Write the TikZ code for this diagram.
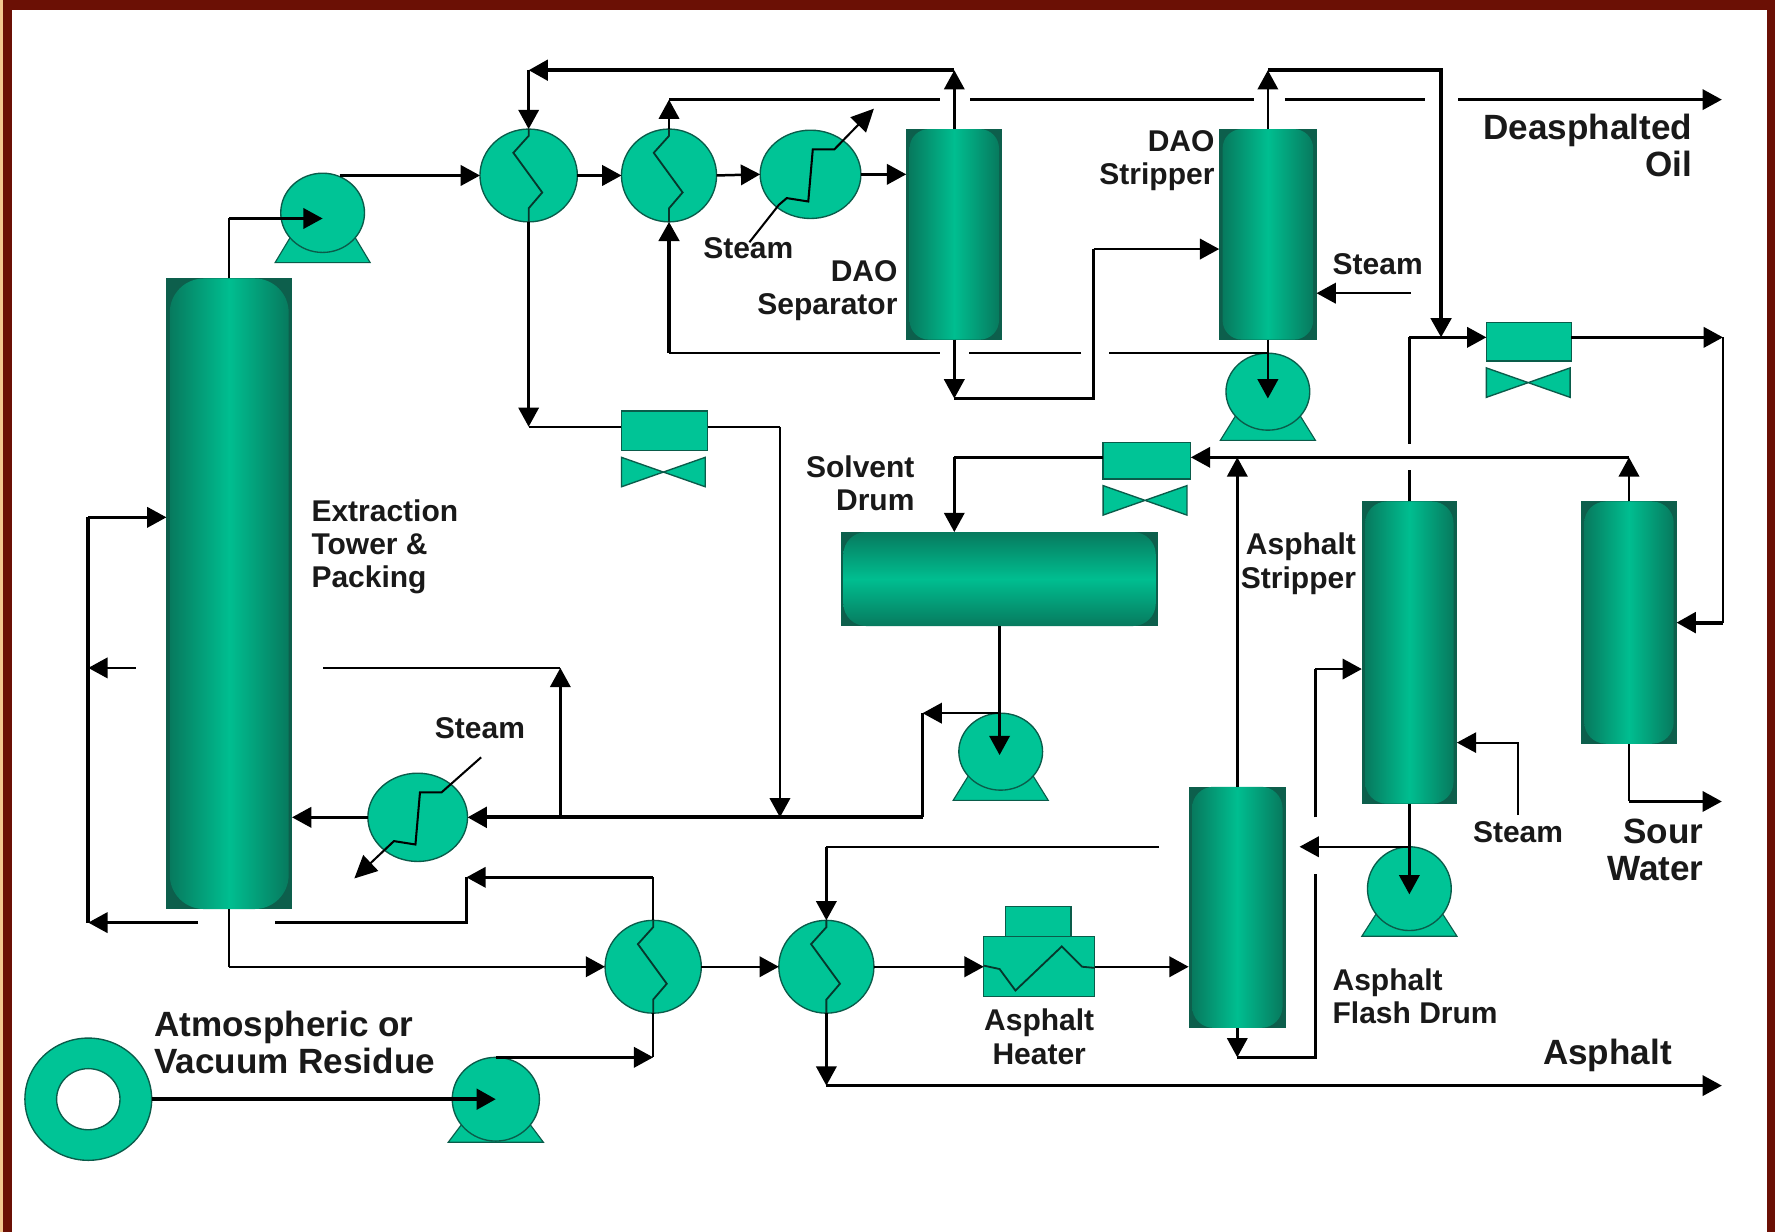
\documentclass[tikz,border=0pt]{standalone}
\usepackage{fontspec}
\setmainfont{Liberation Sans}
\usetikzlibrary{arrows.meta,shapes.geometric}
\definecolor{eqfill}{HTML}{00C496}
\definecolor{eqline}{HTML}{0A5C4A}
\definecolor{vdark}{HTML}{0D5F4C}
\definecolor{vedge}{HTML}{077A5E}
\definecolor{vmid}{HTML}{00BE90}
\definecolor{frame}{HTML}{6B1005}
\definecolor{frameedge}{HTML}{F3C890}
\tikzset{
  x=1pt,y=-1pt,
  >={Triangle[length=17pt,width=18pt]},
  pipe/.style={line width=2.2pt,black,line join=miter},
  bigpipe/.style={line width=3.4pt,black,line join=miter},
  zig/.style={line width=1.6pt,eqline!60!black,line join=miter},
  eq/.style={draw=eqline,line width=1.2pt,fill=eqfill,inner sep=0pt,outer sep=0pt},
  hx/.style={eq,ellipse},
  vesselbox/.style={rectangle,fill=vdark,inner sep=0pt,outer sep=0pt},
  lbl/.style={font=\bfseries\fontsize{26.5}{29.5}\selectfont,inner sep=0pt,text=black!90},
  biglbl/.style={font=\bfseries\fontsize{31}{32.5}\selectfont,inner sep=0pt,text=black!90},
}
% vertical vessel: name, cx, cy, w, h, radius
\newcommand{\vvessel}[6]{%
  \node[vesselbox,minimum width=#4pt,minimum height=#5pt] (#1) at (#2,#3) {};
  \shade[left color=vedge,right color=vedge,middle color=vmid,rounded corners=#6pt]
    ([xshift=3pt]#1.north west) rectangle ([xshift=-3pt]#1.south east);
}
% pump: name, cx, cy, w, h, base offset
\newcommand{\pumpunit}[6]{%
  \fill[eqfill,draw=eqline,line width=1pt] (#2-42,#3+#6) -- (#2+42,#3+#6) -- (#2+24,#3+14) -- (#2-24,#3+14) -- cycle;
  \node[hx,minimum width=#4pt,minimum height=#5pt] (#1) at (#2,#3) {};
}
% control valve: name, cx, cy, w, h
\newcommand{\ctlvalve}[5]{%
  \node[eq,rectangle,minimum width=#4pt,minimum height=#5pt] (#1) at (#2,#3) {};
  \path[eq,shift={(#1.south west)}] (0,6) -- (37,19) -- (74,6) -- (74,32) -- (37,19) -- (0,32) -- cycle;
}
\newcommand{\hxzig}[1]{%
  \draw[zig,shift={(#1.center)}] (0,-41) -- (0,-35) -- (-13.5,-20) -- (12,15) -- (0,29) -- (0,41);
}
\begin{document}
\begin{tikzpicture}
\useasboundingbox (0,0) rectangle (1568,1088);
\fill[white] (0,0) rectangle (1568,1088);
\fill[frameedge] (0,0) rectangle (3,1088);
\fill[frame] (3,0) rectangle (11,1088);
\fill[frame] (3,0) rectangle (1568,9);
\fill[frame] (1561,0) rectangle (1568,1088);

% vessels
\vvessel{tower}{202.5}{524.5}{111}{557}{30}
\vvessel{sep}{843}{207}{85}{186}{17}
\vvessel{strip}{1120}{207}{86}{186}{17}
\vvessel{astrip}{1245}{576.5}{84}{267}{19}
\vvessel{sour}{1439}{550}{85}{214}{19}
\vvessel{flash}{1093}{801.5}{86}{213}{19}
\node[vesselbox,minimum width=280pt,minimum height=83pt] (drum) at (883,511.5) {};
\shade[top color=vedge,bottom color=vedge,middle color=vmid,rounded corners=20pt]
  ([xshift=2pt]drum.north west) rectangle ([xshift=-2pt]drum.south east);

% exchangers
\node[hx,minimum width=86pt,minimum height=82pt] (hx1) at (467,155) {};
\node[hx,minimum width=84pt,minimum height=82pt] (hx2) at (591,155) {};
\node[hx,minimum width=89pt,minimum height=78pt] (cond1) at (716,154) {};
\node[hx,minimum width=88pt,minimum height=78pt] (cond2) at (369,722) {};
\node[hx,minimum width=85pt,minimum height=82pt] (hx3) at (577,854) {};
\node[hx,minimum width=84pt,minimum height=82pt] (hx4) at (730,854) {};

% pumps
\pumpunit{P1}{285}{188}{74}{70}{44}
\pumpunit{P2}{1120}{346}{74}{68}{43}
\pumpunit{P3}{884}{664}{74}{68}{43}
\pumpunit{P4}{1245}{785}{74}{74}{42}
\pumpunit{P5}{438}{971}{77}{74}{38}

% valves
\ctlvalve{V1}{587}{380.5}{76}{35}
\ctlvalve{V2}{1013}{407}{77}{32}
\ctlvalve{V3}{1350.5}{302}{75}{34}

% feed ring
\node[hx,minimum width=112pt,minimum height=108pt] (ring) at (78,971) {};
\node[ellipse,draw=eqline,line width=1.2pt,fill=white,minimum width=56pt,minimum height=54pt,inner sep=0pt] (hole) at (78,971) {};

% heater
\node[eq,rectangle,minimum width=58pt,minimum height=27pt] (heatertop) at (917,814.5) {};
\node[eq,rectangle,minimum width=98pt,minimum height=53pt] (heater) at (918,854) {};
\draw[zig,shift={(heater.center)}] (-49,-1) -- (-35,2) -- (-21,21) -- (20,-18) -- (38,0) -- (49,1);

% coil details
\hxzig{hx1}\hxzig{hx2}\hxzig{hx3}\hxzig{hx4}

% named free ends and bends
\coordinate (towerup) at (202.5,193);
\coordinate (P1in) at (285,193);
\coordinate (top62) at (843,62);
\coordinate (left62) at (467,62);
\coordinate (a377) at (467,377);
\coordinate (b377) at (689,377);
\coordinate (c722) at (689,722);
\coordinate (d88) at (591,88);
\coordinate (d88a) at (830,88);
\coordinate (d88b) at (857,88);
\coordinate (d88c) at (1108,88);
\coordinate (d88d) at (1135,88);
\coordinate (d88e) at (1259,88);
\coordinate (d88f) at (1288,88);
\coordinate (doil) at (1521,88);
\coordinate (s62) at (1120,62);
\coordinate (r62) at (1273,62);
\coordinate (r298) at (1273,298);
\coordinate (k392) at (1245,392);
\coordinate (k415) at (1245,415);
\coordinate (k298) at (1245,298);
\coordinate (v3in) at (1313,298);
\coordinate (v3out) at (1388,298);
\coordinate (e298) at (1522,298);
\coordinate (e550) at (1522,550);
\coordinate (sourin) at (1481,550);
\coordinate (sour404) at (1439,404);
\coordinate (v2in) at (1052,404);
\coordinate (fl404) at (1093,404);
\coordinate (v2l) at (843,404);
\coordinate (drumin) at (843,470);
\coordinate (P3in) at (883,667);
\coordinate (P3l) at (815,630);
\coordinate (P3d) at (815,722);
\coordinate (cond2in) at (413,722);
\coordinate (j722) at (495,722);
\coordinate (j590) at (495,590);
\coordinate (g590a) at (285,590);
\coordinate (g590b) at (120,590);
\coordinate (l590) at (78,590);
\coordinate (l457) at (78,457);
\coordinate (towerin) at (147,457);
\coordinate (l815) at (78,815);
\coordinate (g815a) at (175,815);
\coordinate (g815b) at (243,815);
\coordinate (n815) at (412,815);
\coordinate (n775) at (412,775);
\coordinate (h775) at (577,775);
\coordinate (towerr) at (258,722);
\coordinate (tb854) at (202.5,854);
\coordinate (q748a) at (1024,748);
\coordinate (q748) at (730,748);
\coordinate (hx4b) at (730,959);
\coordinate (asph) at (1521,959);
\coordinate (fl934) at (1093,934);
\coordinate (m934) at (1162,934);
\coordinate (m772) at (1162,772);
\coordinate (m722) at (1162,722);
\coordinate (m591) at (1162,591);
\coordinate (astin) at (1203,591);
\coordinate (P4in) at (1245,790);
\coordinate (P4l) at (1148,748);
\coordinate (st1) at (1341,720);
\coordinate (st1b) at (1341,656);
\coordinate (st1c) at (1287,656);
\coordinate (sb708) at (1439,708);
\coordinate (swat) at (1521,708);
\coordinate (P5t) at (577,934);
\coordinate (st2a) at (1246,259);
\coordinate (st2b) at (1163,259);
\coordinate (P2in) at (1120,352);
\coordinate (w312a) at (980,312);
\coordinate (w312b) at (955,312);
\coordinate (w312c) at (856,312);
\coordinate (w312d) at (830,312);
\coordinate (w312e) at (591,312);
\coordinate (sb352) at (843,352);
\coordinate (t352) at (966,352);
\coordinate (t220) at (966,220);
\coordinate (stripin) at (1077,220);

% main connectors
\draw[pipe] (tower.north) -- (towerup);
\draw[pipe,->] (towerup) -- (P1in);
\draw[pipe,->] (P1.north) ++(15,2) -- (hx1.west);
\draw[pipe,->] (hx1.east) -- (hx2.west);
\draw[pipe,->] (hx2.east) -- (cond1.west);
\draw[pipe,->] (cond1.east) -- (sep.west |- cond1.east);
\draw[pipe,->] (sep.north) -- (top62);
\draw[bigpipe,->] (top62) -- (left62);
\draw[pipe,->] (left62) -- (hx1.north);
\draw[pipe,->] (hx1.south) -- (a377);
\draw[pipe] (a377) -- (V1.west |- a377);
\draw[pipe] (V1.east |- b377) -- (b377);
\draw[pipe,->] (b377) -- (c722);
\draw[pipe,->] (hx2.north) -- (d88);
\draw[pipe] (d88) -- (d88a);
\draw[pipe] (d88b) -- (d88c);
\draw[pipe] (d88d) -- (d88e);
\draw[pipe,->] (d88f) -- (doil);
\draw[pipe,->] (strip.north) -- (s62);
\draw[bigpipe,->] (s62) -- (r62) -- (r298);
\draw[pipe] (astrip.north) -- (k415);
\draw[pipe] (k392) -- (k298);
\draw[pipe,->] (k298) -- (v3in);
\draw[pipe,->] (v3out) -- (e298);
\draw[pipe] (e298) -- (e550);
\draw[bigpipe,->] (e550) -- (sourin);
\draw[pipe,->] (sour.north) -- (sour404);
\draw[pipe,->] (sour404) -- (v2in);
\draw[pipe,->] (flash.north) -- (fl404);
\draw[pipe] (V2.west |- v2l) -- (v2l);
\draw[pipe,->] (v2l) -- (drumin);
\draw[pipe,->] (drum.south) -- (P3in);
\draw[pipe,->] (P3.north) -- (P3l);
\draw[pipe] (P3l) -- (P3d);
\draw[bigpipe,->] (P3d) -- (cond2in);
\draw[pipe,->] (j722) -- (j590);
\draw[pipe] (j590) -- (g590a);
\draw[pipe,->] (g590b) -- (l590);
\draw[bigpipe] (l457) -- (l815);
\draw[pipe,->] (l457) -- (towerin);
\draw[pipe,->] (g815a) -- (l815);
\draw[pipe] (g815b) -- (n815) -- (n775);
\draw[pipe] (hx3.north) -- (h775);
\draw[pipe,->] (h775) -- (n775);
\draw[pipe,->] (cond2.west) -- (towerr);
\draw[pipe] (tower.south) -- (tb854);
\draw[pipe,->] (tb854) -- (hx3.west);
\draw[pipe,->] (hx3.east) -- (hx4.west);
\draw[pipe,->] (hx4.east) -- (heater.west);
\draw[pipe,->] (heater.east) -- (flash.west |- heater.east);
\draw[pipe] (q748a) -- (q748);
\draw[pipe,->] (q748) -- (hx4.north);
\draw[pipe,->] (hx4.south) -- (hx4b);
\draw[pipe,->] (hx4b) -- (asph);
\draw[pipe,->] (flash.south) -- (fl934);
\draw[pipe] (fl934) -- (m934) -- (m772);
\draw[pipe] (m722) -- (m591);
\draw[pipe,->] (m591) -- (astin);
\draw[pipe,->] (astrip.south) -- (P4in);
\draw[pipe,->] (P4.north) -- (P4l);
\draw[line width=1.6pt,->] (st1) -- (st1b) -- (st1c);
\draw[pipe] (sour.south) -- (sb708);
\draw[pipe,->] (sb708) -- (swat);
\draw[bigpipe,->] (ring.east) -- (P5.center);
\draw[pipe,->] (P5.north) -- (P5t);
\draw[pipe] (P5t) -- (hx3.south);
\draw[pipe,->] (st2a) -- (st2b);
\draw[pipe,->] (strip.south) -- (P2in);
\draw[pipe] (P2.north) -- (w312a);
\draw[pipe] (w312b) -- (w312c);
\draw[pipe] (w312d) -- (w312e);
\draw[bigpipe,->] (w312e) -- (hx2.south);
\draw[pipe,->] (sep.south) -- (sb352);
\draw[pipe] (sb352) -- (t352) -- (t220);
\draw[pipe,->] (t220) -- (stripin);

% condensers: steam coil and arrow
\draw[zig,black,line width=1.8pt,shift={(cond1.center)},>={Triangle[length=20pt,width=19pt]},->]
  (-54,60) -- (-28,27) -- (-21,21) -- (-2,24) -- (2,-22) -- (21,-22) -- (56,-58);
\draw[zig,black,line width=1.8pt,shift={(cond2.center)},>={Triangle[length=20pt,width=19pt]},->]
  (56,-53) -- (21,-22) -- (2,-22) -- (-2,24) -- (-21,21) -- (-56,54);

% labels
\node[lbl] (tSteamA) at (661,219) {Steam};
\node[lbl,align=right,anchor=east] (tSep) at (793,257) {DAO\\Separator};
\node[lbl,align=right,anchor=east] (tStrip) at (1073,142) {DAO\\Stripper};
\node[lbl] (tSteamB) at (1217,233) {Steam};
\node[lbl,align=left,anchor=west] (tExt) at (275,483) {Extraction\\Tower \&\\Packing};
\node[lbl,align=right,anchor=east] (tDrum) at (808,427) {Solvent\\Drum};
\node[lbl] (tSteamC) at (424,643) {Steam};
\node[lbl,align=right,anchor=east] (tAst) at (1198,498) {Asphalt\\Stripper};
\node[lbl] (tSteamD) at (1341,735) {Steam};
\node[lbl,align=left,anchor=west] (tFlash) at (1177,880) {Asphalt\\Flash Drum};
\node[lbl,align=center] (tHeat) at (918,916) {Asphalt\\Heater};
\node[biglbl,align=right,anchor=east] (tOil) at (1495,128.5) {Deasphalted\\Oil};
\node[biglbl,align=right,anchor=east] (tWater) at (1505,750.5) {Sour\\Water};
\node[biglbl] (tAsph) at (1420,932) {Asphalt};
\node[biglbl,align=left,anchor=west] (tFeed) at (136,921) {Atmospheric or\\Vacuum Residue};
\end{tikzpicture}
\end{document}
